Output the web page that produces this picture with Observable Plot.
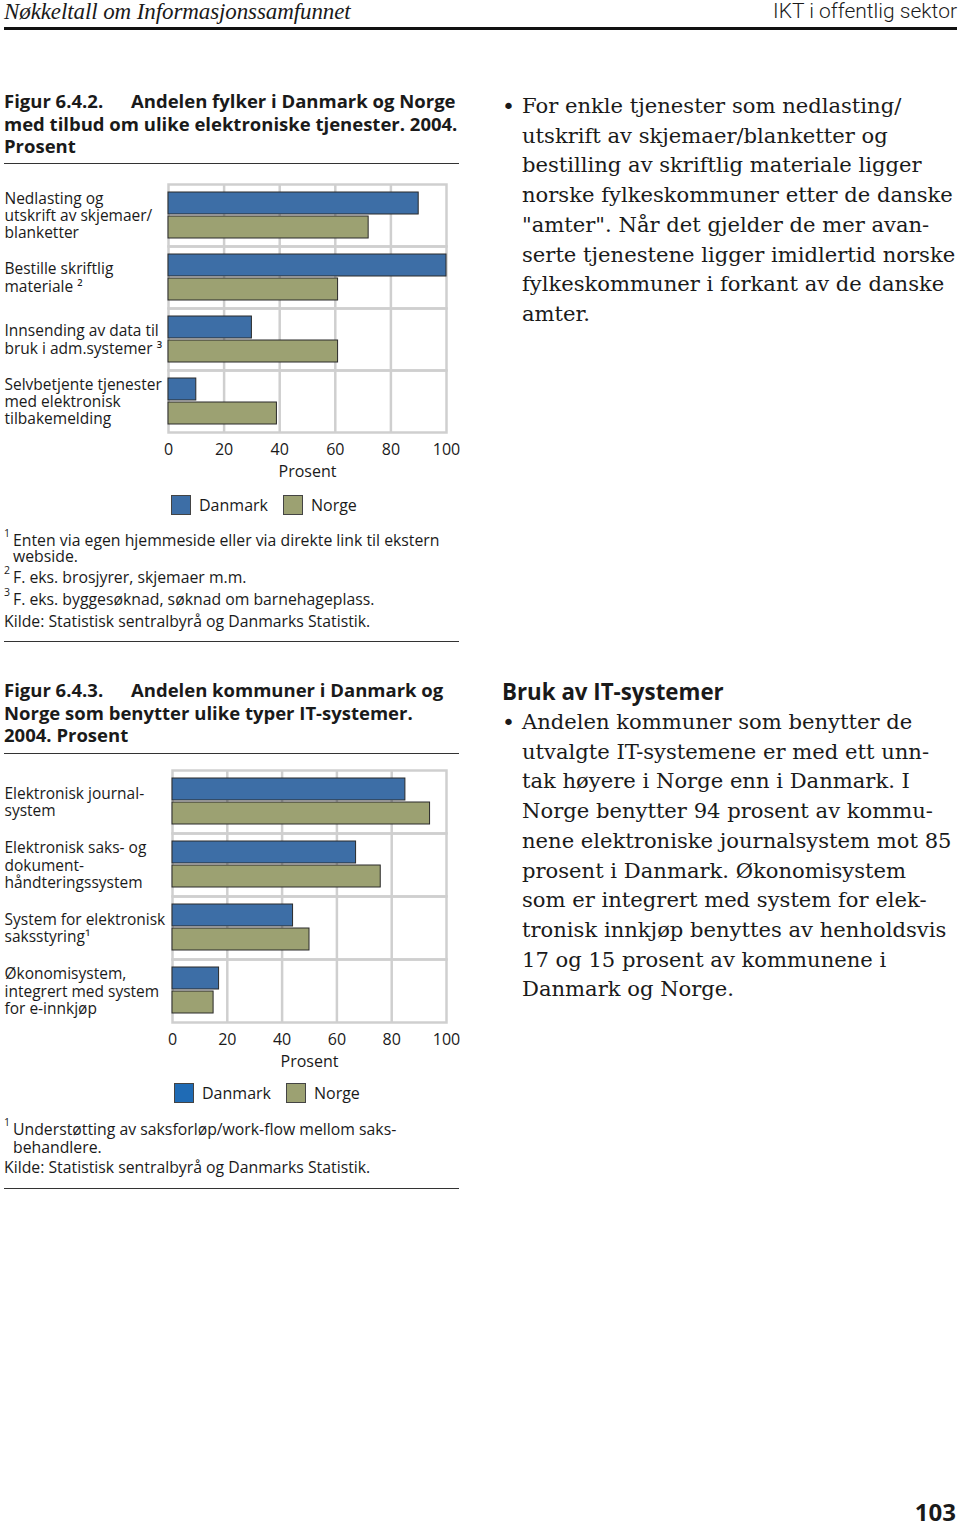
<!DOCTYPE html>
<html><head><meta charset="utf-8">
<script src="https://cdn.jsdelivr.net/npm/d3@7"></script>
<script src="https://cdn.jsdelivr.net/npm/@observablehq/plot@0.6"></script>
<style>
body{margin:0;background:#fff;}
#page{position:relative;width:960px;height:1526px;overflow:hidden;font-family:"Open Sans",Lato,sans-serif;color:#1a1a1a;background:#fff;}
.abs{position:absolute;white-space:pre;}
.title{font-weight:700;font-size:18.5px;line-height:22.5px;}
.rule{position:absolute;left:4px;width:455px;height:1.5px;background:#333;}
.fn{position:absolute;left:4px;font-size:15.8px;line-height:18px;white-space:pre;}
.fn .s{position:absolute;left:0;top:-7px;font-size:10.5px;}
.fn .t{padding-left:9px;}
.serif{font-family:"DejaVu Serif","Liberation Serif",serif;font-size:21.1px;line-height:29.7px;left:522px;}
.bullet{position:absolute;left:502px;font-size:22px;font-family:"DejaVu Sans",sans-serif;}
.legend{position:absolute;display:flex;align-items:center;font-size:16px;}
.sw{width:18px;height:18px;border:1px solid #444;margin-right:8px;}
.chart{position:absolute;left:0;}
</style></head>
<body><div id="page">
<div class="abs" style="left:4px;top:-1px;font-family:'Liberation Serif',serif;font-style:italic;font-size:23px;letter-spacing:-0.1px;">Nøkkeltall om Informasjonssamfunnet</div>
<div class="abs" style="right:3px;top:-1px;font-family:Roboto,sans-serif;font-weight:300;font-size:21px;">IKT i offentlig sektor</div>
<div style="position:absolute;left:4px;top:27px;width:953px;height:3px;background:#111;"></div>

<div class="abs title" style="left:4px;top:90px;">Figur 6.4.2.</div>
<div class="abs title" style="left:131px;top:90px;">Andelen fylker i Danmark og Norge</div>
<div class="abs title" style="left:4px;top:112.5px;">med tilbud om ulike elektroniske tjenester. 2004.
Prosent</div>
<div class="rule" style="top:162.5px;"></div>
<div class="chart" id="chart1" style="top:170px;"></div>
<div class="legend" id="legend1" style="left:171px;top:494px;"></div>
<div class="fn" style="top:531px;"><span class="s">1</span><span class="t">Enten via egen hjemmeside eller via direkte link til ekstern</span></div>
<div class="fn" style="top:547px;"><span class="t">webside.</span></div>
<div class="fn" style="top:568px;"><span class="s">2</span><span class="t">F. eks. brosjyrer, skjemaer m.m.</span></div>
<div class="fn" style="top:590px;"><span class="s">3</span><span class="t">F. eks. byggesøknad, søknad om barnehageplass.</span></div>
<div class="fn" style="top:612px;">Kilde: Statistisk sentralbyrå og Danmarks Statistik.</div>
<div class="rule" style="top:640.5px;"></div>

<div class="abs title" style="left:4px;top:679px;">Figur 6.4.3.</div>
<div class="abs title" style="left:131px;top:679px;">Andelen kommuner i Danmark og</div>
<div class="abs title" style="left:4px;top:701.5px;">Norge som benytter ulike typer IT-systemer.
2004. Prosent</div>
<div class="rule" style="top:752.5px;"></div>
<div class="chart" id="chart2" style="top:757px;"></div>
<div class="legend" id="legend2" style="left:174px;top:1082px;"></div>
<div class="fn" style="top:1120px;"><span class="s">1</span><span class="t">Understøtting av saksforløp/work-flow mellom saks-</span></div>
<div class="fn" style="top:1138px;"><span class="t">behandlere.</span></div>
<div class="fn" style="top:1158px;">Kilde: Statistisk sentralbyrå og Danmarks Statistik.</div>
<div class="rule" style="top:1187.5px;"></div>

<div class="bullet" style="top:94px;">•</div>
<div class="abs serif" style="top:91px;">For enkle tjenester som nedlasting/
utskrift av skjemaer/blanketter og
bestilling av skriftlig materiale ligger
norske fylkeskommuner etter de danske
"amter". Når det gjelder de mer avan-
serte tjenestene ligger imidlertid norske
fylkeskommuner i forkant av de danske
amter.</div>

<div class="abs" style="left:502px;top:676px;font-weight:700;font-size:22.3px;">Bruk av IT-systemer</div>
<div class="bullet" style="top:710px;">•</div>
<div class="abs serif" style="top:707px;">Andelen kommuner som benytter de
utvalgte IT-systemene er med ett unn-
tak høyere i Norge enn i Danmark. I
Norge benytter 94 prosent av kommu-
nene elektroniske journalsystem mot 85
prosent i Danmark. Økonomisystem
som er integrert med system for elek-
tronisk innkjøp benyttes av henholdsvis
17 og 15 prosent av kommunene i
Danmark og Norge.</div>

<div class="abs" style="right:4px;top:1499px;font-weight:700;font-size:24px;line-height:26px;">103</div>
</div>
<script>
const series = ["Danmark", "Norge"];
const xTicks = [0, 20, 40, 60, 80, 100];

const fig1Categories = [
  "Nedlasting og\nutskrift av skjemaer/\nblanketter",
  "Bestille skriftlig\nmateriale ²",
  "Innsending av data til\nbruk i adm.systemer ³",
  "Selvbetjente tjenester\nmed elektronisk\ntilbakemelding"
];
const fig1Danmark = [90, 100, 30, 10];
const fig1Norge = [72, 61, 61, 39];

const fig2Categories = [
  "Elektronisk journal-\nsystem",
  "Elektronisk saks- og\ndokument-\nhåndteringssystem",
  "System for elektronisk\nsaksstyring¹",
  "Økonomisystem,\nintegrert med system\nfor e-innkjøp"
];
const fig2Danmark = [85, 67, 44, 17];
const fig2Norge = [94, 76, 50, 15];

const barColors = ["#3d6ea6", "#9ca172"];
const gridColor = "#cfcfcf";

function makeChart(cats, dk, no, marginLeft, plotWidth, plotHeight) {
  const data = cats.flatMap((c, i) => [
    {cat: c, country: series[0], value: dk[i]},
    {cat: c, country: series[1], value: no[i]}
  ]);
  const mt = 12, mb = 46, W = 470;
  return Plot.plot({
    width: W,
    height: mt + plotHeight + mb,
    marginLeft,
    marginRight: W - marginLeft - plotWidth,
    marginTop: mt,
    marginBottom: mb,
    style: {fontFamily: "'Open Sans', Lato, sans-serif", fontSize: "15.5px", color: "#1a1a1a", background: "white", overflow: "visible"},
    x: {domain: [0, 100]},
    y: {domain: series, paddingInner: 0.082, paddingOuter: 0.327, axis: null},
    fy: {domain: cats, padding: 0},
    color: {domain: series, range: barColors},
    marks: [
      Plot.gridX(xTicks.filter(t => t > 0 && t < 100), {stroke: gridColor, strokeOpacity: 1, strokeWidth: 2.5}),
      Plot.frame({stroke: gridColor, strokeWidth: 2.5}),
      Plot.barX(data, {x: "value", y: "country", fy: "cat", fill: "country", stroke: "#2a2a2a", strokeWidth: 1}),
      Plot.axisX({ticks: xTicks, tickSize: 0, tickPadding: 11, fontSize: 16, label: "Prosent", labelAnchor: "center", labelArrow: "none", labelOffset: 44}),
      Plot.axisFy({anchor: "left", tickSize: 0, tickPadding: 0, textAnchor: "start", dx: -(marginLeft - 4), lineHeight: 1.11, label: null})
    ]
  });
}

document.getElementById("chart1").append(makeChart(fig1Categories, fig1Danmark, fig1Norge, 168, 278, 251));
document.getElementById("chart2").append(makeChart(fig2Categories, fig2Danmark, fig2Norge, 172, 274, 253));

function legend(id, colors) {
  const el = document.getElementById(id);
  series.forEach((s, i) => {
    const sw = document.createElement("div");
    sw.className = "sw";
    sw.style.background = colors[i];
    const t = document.createElement("span");
    t.textContent = s;
    t.style.marginRight = i === 0 ? "15px" : "0";
    el.append(sw, t);
  });
}
legend("legend1", barColors);
legend("legend2", ["#1f6bb5", barColors[1]]);
</script>
</body></html>
